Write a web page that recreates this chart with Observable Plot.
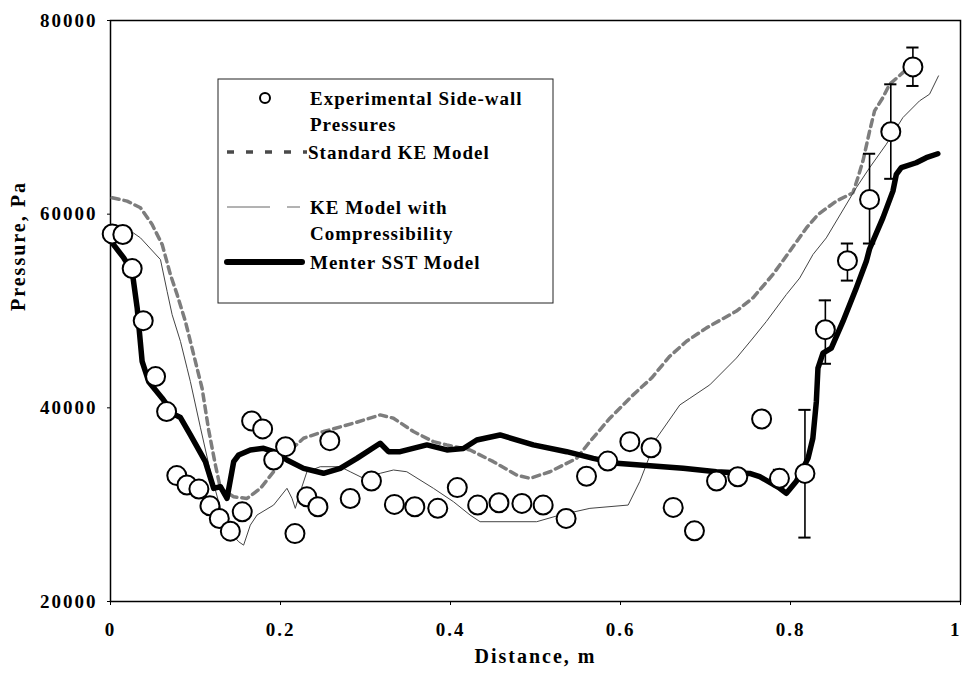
<!DOCTYPE html>
<html><head><meta charset="utf-8">
<script src="https://cdn.jsdelivr.net/npm/d3@7"></script>
<script src="https://cdn.jsdelivr.net/npm/@observablehq/plot@0.6"></script>
<style>body{margin:0;background:#fff;}</style>
</head><body><div id="chart"></div>
<script>
// Experimental side-wall pressures
const expDist = [0.002,0.0145,0.0255,0.0385,0.053,0.066,0.078,0.090,0.104,0.117,0.128,0.141,0.155,0.166,0.179,0.192,0.206,0.217,0.231,0.244,0.258,0.282,0.307,0.334,0.358,0.385,0.408,0.432,0.457,0.484,0.509,0.536,0.560,0.585,0.611,0.636,0.662,0.687,0.713,0.738,0.766,0.787,0.817,0.841,0.867,0.893,0.918,0.944];
const expPress = [57960,57900,54380,49000,43230,39610,33000,32030,31610,29880,28570,27260,29260,38650,37820,34610,35990,27010,30810,29780,36610,30640,32440,30030,29780,29620,31760,29960,30200,30130,29960,28580,32930,34500,36510,35880,29720,27300,32440,32880,38850,32720,33230,48070,55200,61520,68520,75210];
// Error bars
const errDist = [0.787,0.817,0.841,0.867,0.893,0.918,0.944];
const errLow  = [31900,26600,44550,53140,56970,63650,73240];
const errHigh = [33600,39790,51100,56970,66240,73410,77210];
// Standard KE model
const skeDist = [0.002,0.0196,0.0353,0.049,0.0608,0.0705,0.0784,0.0881,0.0979,0.1078,0.1155,0.1234,0.1293,0.1449,0.1606,0.1763,0.1919,0.2076,0.2271,0.2506,0.2859,0.3173,0.3329,0.3564,0.3799,0.3957,0.423,0.4504,0.4779,0.4935,0.517,0.5484,0.564,0.5875,0.6149,0.6365,0.658,0.6777,0.7012,0.7364,0.7559,0.7794,0.7991,0.8187,0.8323,0.8539,0.8734,0.8793,0.8852,0.8931,0.8989,0.9087,0.9166,0.9322,0.9401];
const skePress = [61690,61350,60660,58930,56860,53760,51690,48930,45480,42000,37700,34100,31680,30810,30640,31680,33400,35300,36860,37550,38410,39270,38930,37550,36510,36170,35650,34440,33060,32720,33400,34780,36510,38930,41340,43080,45330,46880,48260,49990,51360,53780,56170,58580,59960,61350,62210,63770,65480,68590,70660,72040,73410,74620,75210];
// KE model with compressibility
const kecDist = [0.002,0.0156,0.0353,0.0588,0.0666,0.0725,0.0823,0.0901,0.094,0.1057,0.1175,0.1293,0.1371,0.1508,0.1566,0.1645,0.1724,0.1919,0.2076,0.2135,0.2174,0.2233,0.2311,0.2468,0.2703,0.282,0.2977,0.3173,0.3329,0.3486,0.3799,0.4034,0.423,0.4348,0.5014,0.5288,0.564,0.609,0.6228,0.6424,0.6698,0.6816,0.705,0.7364,0.7559,0.7717,0.795,0.8108,0.8264,0.8421,0.8774,0.8931,0.9127,0.9322,0.9518,0.9636,0.9741];
const kecPress = [58930,58760,57550,55310,52030,49620,46860,44090,42700,38000,33400,29620,27550,26170,25820,27890,28930,29960,31690,30660,29620,31340,33400,33920,33920,33400,32720,33240,33580,33400,31690,30310,28930,28240,28240,28930,29620,29960,32410,36860,40300,40990,42370,45140,47210,48930,51690,53400,55830,57550,62730,64800,67220,69970,71700,72390,74280];
// Menter SST model
const sstDist = [0.002,0.0156,0.0255,0.0314,0.0372,0.045,0.0608,0.0744,0.0823,0.0940,0.1116,0.1214,0.1293,0.1371,0.1449,0.1508,0.1645,0.1801,0.1919,0.2076,0.2271,0.2506,0.2703,0.2899,0.3173,0.327,0.3408,0.3722,0.3957,0.4152,0.4309,0.4583,0.4974,0.5367,0.5679,0.5954,0.6345,0.6737,0.7129,0.752,0.7638,0.7873,0.7952,0.8069,0.8206,0.8263,0.8304,0.8323,0.8382,0.848,0.8617,0.8774,0.8892,0.893,0.9087,0.9205,0.9245,0.9303,0.9479,0.9597,0.9733];
const sstPress = [57030,55480,54100,50300,44800,42700,41000,39350,39000,37200,34440,31680,31860,30660,34440,35130,35650,35820,35470,34610,33750,33240,33750,34780,36340,35470,35470,36170,35650,35800,36680,37200,36170,35470,34780,34270,34030,33750,33400,33230,32900,31700,31170,32410,34780,36860,40640,44090,45650,46160,48920,52370,55130,56400,59620,62380,64110,64800,65310,65830,66240];
// Ticks
const xTicks = [0,0.2,0.4,0.6,0.8,1];
const yTicks = [20000,40000,60000,80000];
const legendLabels = [["Experimental Side-wall","Pressures"],["Standard KE Model"],["KE Model with","Compressibility"],["Menter SST Model"]];

const zip = (xs, ys) => xs.map((d,i)=>({d, p: ys[i]}));
const exp = zip(expDist, expPress);
const ske = zip(skeDist, skePress);
const kec = zip(kecDist, kecPress);
const sst = zip(sstDist, sstPress);
const err = errDist.map((d,i)=>({d, lo: errLow[i], hi: errHigh[i]}));
const capHalf = 0.0072;
const lastTick = xTicks[xTicks.length - 1];

const plot = Plot.plot({
  width: 963, height: 679,
  marginLeft: 110, marginRight: 3, marginTop: 20, marginBottom: 78,
  style: {fontFamily: "'Liberation Serif', serif", fontSize: "19px", fontWeight: "bold", letterSpacing: "2px", color: "black"},
  x: {domain: [0,1]},
  y: {domain: [20000,80000]},
  marks: [
    Plot.frame({stroke: "black", strokeWidth: 1.5}),
    Plot.axisX(xTicks, {tickSize: 4, tickPadding: 17, tickFormat: d => d === lastTick ? "" : String(d), label: null, stroke: "black"}),
    Plot.axisX([lastTick], {tickSize: 0, tickPadding: 21, tickFormat: d => String(d), textAnchor: "end", dx: 1, label: null}),
    Plot.axisY(yTicks, {tickSize: 3, tickPadding: 10, tickFormat: d => String(d), label: null, stroke: "black"}),
    Plot.text(["Distance, m"], {frameAnchor: "bottom", dy: 61, fontSize: 20}),
    Plot.text(["Pressure, Pa"], {frameAnchor: "left", dx: -92, rotate: -90, fontSize: 20}),
    Plot.line(ske, {x: "d", y: "p", stroke: "#7d7d7d", strokeWidth: 3.5, strokeDasharray: "7,5"}),
    Plot.line(kec, {x: "d", y: "p", stroke: "#444", strokeWidth: 1}),
    Plot.line(sst, {x: "d", y: "p", stroke: "black", strokeWidth: 5.5, strokeLinejoin: "round", strokeLinecap: "round"}),
    Plot.ruleX(err, {x: "d", y1: "lo", y2: "hi", stroke: "black", strokeWidth: 1.6}),
    Plot.ruleY(err, {y: "lo", x1: d => d.d - capHalf, x2: d => d.d + capHalf, stroke: "black", strokeWidth: 2}),
    Plot.ruleY(err, {y: "hi", x1: d => d.d - capHalf, x2: d => d.d + capHalf, stroke: "black", strokeWidth: 2}),
    Plot.dot(exp, {x: "d", y: "p", r: 9.5, fill: "white", stroke: "black", strokeWidth: 2})
  ]
});
document.getElementById("chart").appendChild(plot);

// Legend
const svg = d3.select(plot);
const lg = svg.append("g").attr("font-family", "'Liberation Serif', serif").attr("font-weight", "bold").attr("font-size", 19).style("letter-spacing", "1px");
lg.append("rect").attr("x", 218).attr("y", 79).attr("width", 335).attr("height", 224).attr("fill", "white").attr("stroke", "#222").attr("stroke-width", 1);
lg.append("circle").attr("cx", 265).attr("cy", 98).attr("r", 5).attr("fill", "white").attr("stroke", "black").attr("stroke-width", 2);
lg.append("line").attr("x1", 227).attr("x2", 307).attr("y1", 152).attr("y2", 152).attr("stroke", "#4a4a4a").attr("stroke-width", 3.5).attr("stroke-dasharray", "7,12");
lg.append("line").attr("x1", 227).attr("x2", 300).attr("y1", 207).attr("y2", 207).attr("stroke", "#666").attr("stroke-width", 1).attr("stroke-dasharray", "43,17,13");
lg.append("line").attr("x1", 227).attr("x2", 302).attr("y1", 262).attr("y2", 262).attr("stroke", "black").attr("stroke-width", 6).attr("stroke-linecap", "round");
const rows = [[98, 310], [152, 308], [207, 310], [262, 310]];
legendLabels.forEach((lines, i) => {
  lines.forEach((t, j) => {
    lg.append("text").attr("x", rows[i][1]).attr("y", rows[i][0] + j * 26).attr("dy", "0.35em").attr("text-anchor", "start").text(t);
  });
});
</script>
</body></html>
